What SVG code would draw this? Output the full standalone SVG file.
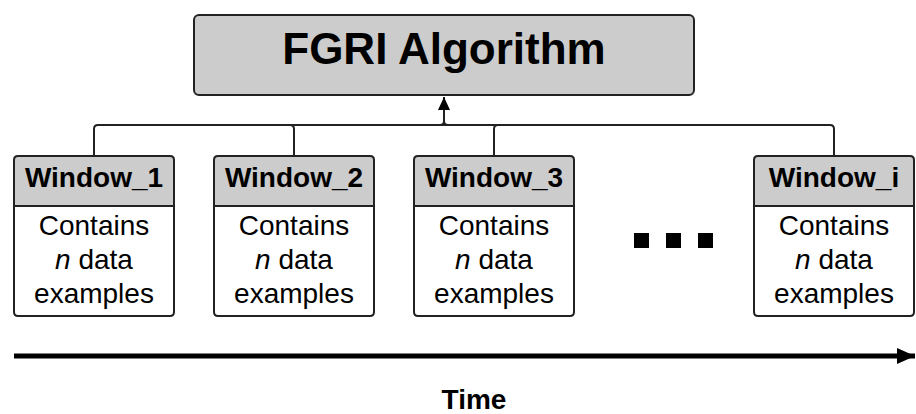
<svg xmlns="http://www.w3.org/2000/svg" width="916" height="414" viewBox="0 0 916 414">
<style>
.hdr{fill:#cccccc;stroke:#222;stroke-width:2}
.bdy{fill:#ffffff;stroke:#222;stroke-width:2}
.t{font-family:"Liberation Sans",Arial,sans-serif;fill:#000;text-anchor:middle}
.b{font-weight:bold}
.h{font-size:28px;font-weight:bold}
.c{font-size:28px}
.conn{fill:none;stroke:#222;stroke-width:2}
</style>
<defs>
<marker id="ah" viewBox="0 0 13 12" refX="13" refY="6" markerWidth="13" markerHeight="12" markerUnits="userSpaceOnUse" orient="auto">
<path d="M0 0 L13 6 L0 12 Z" fill="#000"/>
</marker>
<marker id="ah2" viewBox="0 0 18 16" refX="18" refY="8" markerWidth="18" markerHeight="16" markerUnits="userSpaceOnUse" orient="auto">
<path d="M0 0 L18 8 L0 16 Z" fill="#000"/>
</marker>
</defs>
<rect width="916" height="414" fill="#fff"/>
<g id="connectors">
<path class="conn" d="M94 155 V129 Q94 125 98 125 H830 Q834 125 834 129 V155"/>
<path class="conn" d="M294 155 V129 Q294 125 290 125"/>
<path class="conn" d="M494 155 V129 Q494 125 498 125"/>
<path class="conn" d="M440 125 Q444 125 444 121 Q444 125 448 125"/>
<path class="conn" d="M444 122 V97" marker-end="url(#ah)"/>
<path d="M14 356 H915" stroke="#000" stroke-width="5" fill="none" marker-end="url(#ah2)"/>
</g>
<g id="fgri">
<rect x="194" y="15" width="500" height="80" rx="5" class="hdr"/>
<text x="444" y="64" class="t b" font-size="44">FGRI Algorithm</text>
</g>
<g id="window1">
<path class="bdy" d="M14 206 H174 V312 Q174 316 170 316 H18 Q14 316 14 312 Z"/>
<path class="hdr" d="M14 206 V160 Q14 156 18 156 H170 Q174 156 174 160 V206 Z"/>
<text x="94" y="187" class="t h">Window_1</text>
<text x="94" y="235" class="t c">Contains</text>
<text x="94" y="269" class="t c"><tspan font-style="italic">n</tspan> data</text>
<text x="94" y="303" class="t c">examples</text>
</g>
<g id="window2">
<path class="bdy" d="M214 206 H374 V312 Q374 316 370 316 H218 Q214 316 214 312 Z"/>
<path class="hdr" d="M214 206 V160 Q214 156 218 156 H370 Q374 156 374 160 V206 Z"/>
<text x="294" y="187" class="t h">Window_2</text>
<text x="294" y="235" class="t c">Contains</text>
<text x="294" y="269" class="t c"><tspan font-style="italic">n</tspan> data</text>
<text x="294" y="303" class="t c">examples</text>
</g>
<g id="window3">
<path class="bdy" d="M414 206 H574 V312 Q574 316 570 316 H418 Q414 316 414 312 Z"/>
<path class="hdr" d="M414 206 V160 Q414 156 418 156 H570 Q574 156 574 160 V206 Z"/>
<text x="494" y="187" class="t h">Window_3</text>
<text x="494" y="235" class="t c">Contains</text>
<text x="494" y="269" class="t c"><tspan font-style="italic">n</tspan> data</text>
<text x="494" y="303" class="t c">examples</text>
</g>
<g id="windowi">
<path class="bdy" d="M754 206 H914 V312 Q914 316 910 316 H758 Q754 316 754 312 Z"/>
<path class="hdr" d="M754 206 V160 Q754 156 758 156 H910 Q914 156 914 160 V206 Z"/>
<text x="834" y="187" class="t h">Window_i</text>
<text x="834" y="235" class="t c">Contains</text>
<text x="834" y="269" class="t c"><tspan font-style="italic">n</tspan> data</text>
<text x="834" y="303" class="t c">examples</text>
</g>
<g id="ellipsis">
<rect x="634" y="233" width="15" height="15" fill="#000"/>
<rect x="666" y="233" width="15" height="15" fill="#000"/>
<rect x="698" y="233" width="15" height="15" fill="#000"/>
</g>
<text x="474" y="409" class="t b" font-size="28">Time</text>
</svg>
